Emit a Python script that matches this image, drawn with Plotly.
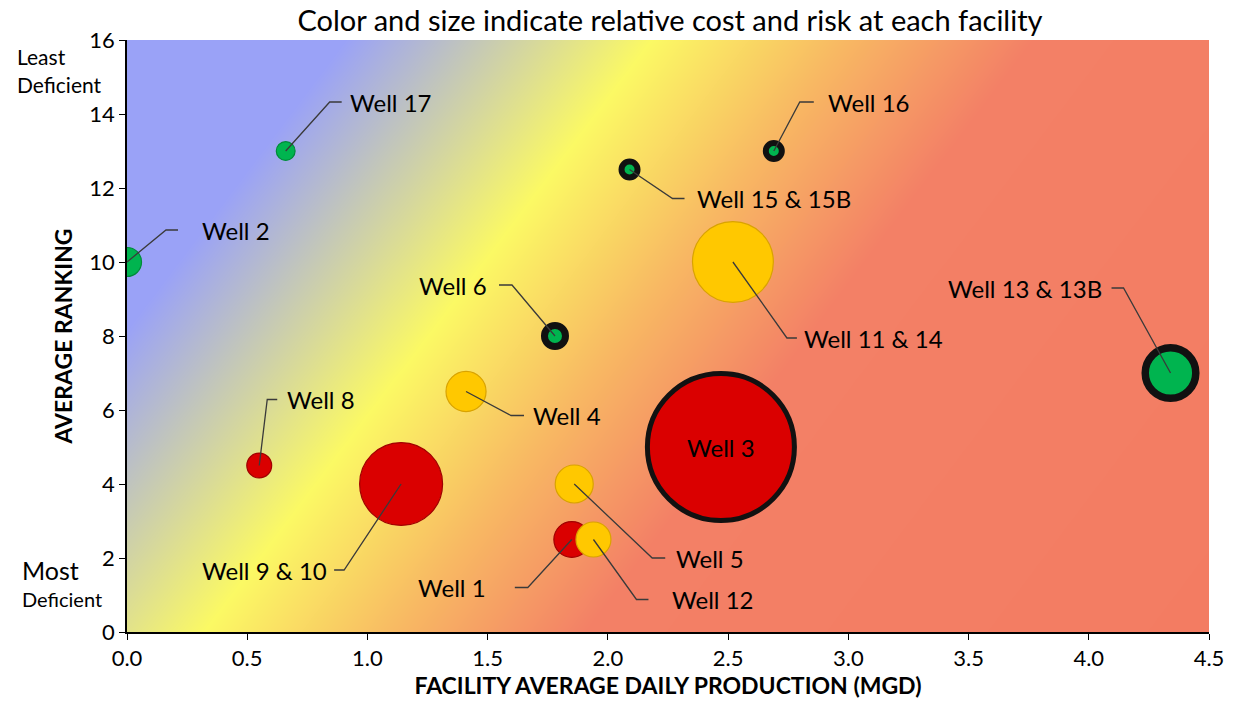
import numpy as np
import plotly.graph_objects as go

# ---- facility data -------------------------------------------------------
wells = ["Well 1", "Well 2", "Well 3", "Well 4", "Well 5", "Well 6", "Well 8",
         "Well 9 & 10", "Well 11 & 14", "Well 12", "Well 13 & 13B",
         "Well 15 & 15B", "Well 16", "Well 17"]
production_mgd = [1.85, 0.0, 2.47, 1.41, 1.86, 1.78, 0.55,
                  1.14, 2.52, 1.94, 4.34, 2.09, 2.69, 0.66]
avg_ranking = [2.5, 10, 5, 6.5, 4, 8, 4.5,
               4, 10, 2.5, 7, 12.5, 13, 13]
relative_cost = [5.9, 3.9, 100, 7.3, 6.6, 3.4, 2.9,
                 30.5, 29, 5.6, 14.6, 2.1, 2.1, 1.7]
risk_level = ["High", "Low", "High", "Medium", "Medium", "Low", "High",
              "High", "Medium", "Medium", "Low", "Low", "Low", "Low"]
flagged = [False, False, True, False, False, True, False,
           False, False, False, True, True, True, False]

x_ticks = [0.0, 0.5, 1.0, 1.5, 2.0, 2.5, 3.0, 3.5, 4.0, 4.5]
y_ticks = [0, 2, 4, 6, 8, 10, 12, 14, 16]

# ---- styling --------------------------------------------------------------
W, H = 1236, 704
ML, MR, MT, MB = 127, 21, 40, 72
PW, PH = W - ML - MR, H - MT - MB
XR, YR = (0, 4.5), (0, 16)
FONT = "Lato"

risk_fill = {"High": "#da0000", "Medium": "#ffc800", "Low": "#00b44f"}
risk_edge = {"High": "#a00000", "Medium": "#d9a300", "Low": "#008a3a"}

# label placement per well: (elbow dx, elbow dy, segment end dx, text dx), pixels
label_place = {
    "Well 1": (-44, -48, -57, -84),
    "Well 2": (39, 32, 51, 73),
    "Well 4": (45, -24, 58, 65),
    "Well 5": (78, -74, 91, 100),
    "Well 6": (-43, 51, -56, -66),
    "Well 8": (8, 66, 18, 26),
    "Well 9 & 10": (-57, -86, -67, -72),
    "Well 11 & 14": (54, -76, 64, 69),
    "Well 12": (43, -60, 55, 77),
    "Well 13 & 13B": (-47, 85, -59, -67),
    "Well 15 & 15B": (43, -29, 55, 65),
    "Well 16": (26, 49, 40, 52),
    "Well 17": (44, 49, 56, 62),
}

fig = go.Figure()

# ---- diagonal background gradient (blue -> yellow -> salmon) ---------------
px_per_x = PW / (XR[1] - XR[0])
px_per_y = PH / (YR[1] - YR[0])
gx = np.linspace(-0.05, 4.55, 93)
gy = np.linspace(-0.2, 16.2, 83)
GX, GY = np.meshgrid(gx, gy)
ux, uy = 0.796, 0.605
S = ux * (GX * px_per_x) + uy * ((YR[1] - GY) * px_per_y)
smin, smax = S.min(), S.max()
offset = ux * ML + uy * MT


def stop(s):
    return float(np.clip((s - offset - smin) / (smax - smin), 0, 1))


stops = [(0.0, "#9aa2f7"), (stop(300), "#9aa2f7"), (stop(545), "#fbf964"),
         (stop(700), "#f8b863"), (stop(850), "#f38066"), (1.0, "#f37c62")]
fig.add_trace(go.Heatmap(
    x=gx, y=gy, z=S, zmin=smin, zmax=smax, zsmooth="best",
    colorscale=[[p, c] for p, c in stops], showscale=False, hoverinfo="skip"))

# ---- bubbles --------------------------------------------------------------
max_d = 152.0
for name, x, y, c, r, f in zip(wells, production_mgd, avg_ranking,
                               relative_cost, risk_level, flagged):
    outer = max_d * np.sqrt(c / 100.0)
    if f:
        ring = 5 if outer > 100 else (7.5 if outer > 40 else 6 if outer < 25 else 7)
        line = dict(color="#111111", width=ring)
        size = outer - ring
    else:
        line = dict(color=risk_edge[r], width=1.2)
        size = outer - 1
    fig.add_trace(go.Scatter(
        x=[x], y=[y], mode="markers", name=name, showlegend=False,
        marker=dict(size=size, color=risk_fill[r], line=line, opacity=1),
        hovertemplate=name + "<br>%{x:.2f} MGD, rank %{y}<extra></extra>"))

# ---- labels with elbow leader lines ----------------------------------------
LABEL_SIZE = 24
for name, x, y in zip(wells, production_mgd, avg_ranking):
    if name not in label_place:
        fig.add_annotation(x=x, y=y, text=name, showarrow=False,
                           font=dict(family=FONT, size=LABEL_SIZE, color="black"))
        continue
    ex, ey, sx, tx = label_place[name]
    fig.add_shape(type="path", xref="x", yref="y",
                  xsizemode="pixel", ysizemode="pixel", xanchor=x, yanchor=y,
                  path=f"M0,0 L{ex},{ey} L{sx},{ey}",
                  line=dict(color="#3a3a3a", width=1.3))
    fig.add_annotation(x=x, y=y, xshift=tx, yshift=ey, text=name,
                       showarrow=False, xanchor="left" if tx > 0 else "right",
                       yanchor="middle",
                       font=dict(family=FONT, size=LABEL_SIZE, color="black"))

# ---- y-axis end captions ---------------------------------------------------
captions = [("Least", 15.55, 21, 14), ("Deficient", 14.8, 21, 14),
            ("Most", 1.68, 25, 19), ("Deficient", 0.88, 20, 19)]
for text, yv, size, left_px in captions:
    fig.add_annotation(xref="paper", yref="y", x=(left_px - ML) / PW,
                       y=yv, text=text, showarrow=False, xanchor="left",
                       yanchor="middle",
                       font=dict(family=FONT, size=size, color="black"))

fig.update_layout(
    width=W, height=H, margin=dict(l=ML, r=MR, t=MT, b=MB),
    paper_bgcolor="white", plot_bgcolor="white",
    font=dict(family=FONT, color="black"),
    title=dict(text="Color and size indicate relative cost and risk at each facility",
               x=670 / W, xanchor="center", y=1 - 21 / H,
               yanchor="middle", font=dict(family=FONT, size=29, color="black")),
    xaxis=dict(range=list(XR), tickvals=x_ticks,
               ticktext=[f"{v:.1f}" for v in x_ticks],
               showgrid=False, zeroline=False, showline=True,
               linecolor="black", linewidth=1.5, ticks="outside", ticklen=6,
               tickcolor="black", tickwidth=1.3,
               tickfont=dict(family=FONT, size=22, color="black"),
               title=dict(text="<b>FACILITY AVERAGE DAILY PRODUCTION (MGD)</b>",
                          font=dict(family=FONT, size=23, color="black"),
                          standoff=2)),
    yaxis=dict(range=list(YR), tickvals=y_ticks,
               showgrid=False, zeroline=False, showline=True,
               linecolor="black", linewidth=1.5, ticks="outside", ticklen=6,
               tickcolor="black", tickwidth=1.3,
               tickfont=dict(family=FONT, size=22, color="black"),
               title=dict(text="<b>AVERAGE RANKING</b>",
                          font=dict(family=FONT, size=23, color="black"),
                          standoff=10)),
)

fig.write_html("out.html")
